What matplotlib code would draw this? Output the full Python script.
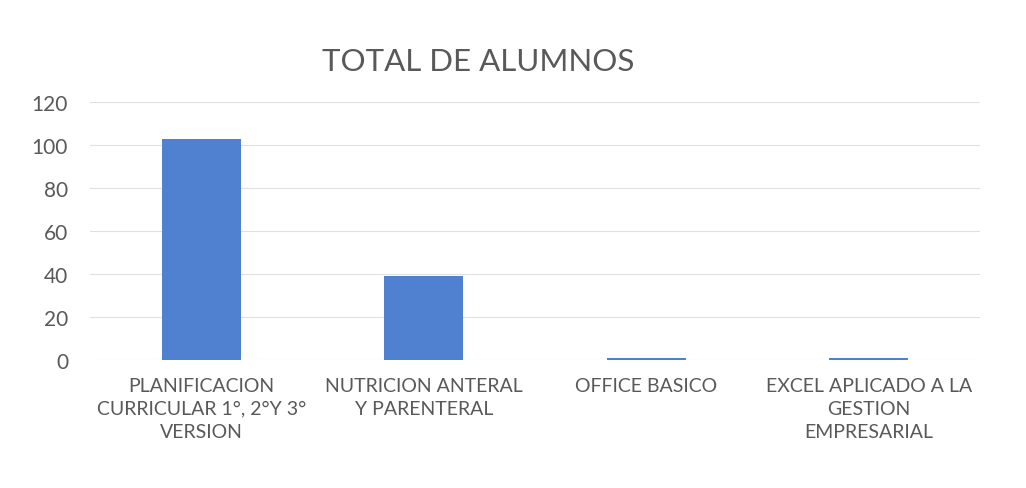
import matplotlib
matplotlib.use("Agg")
import matplotlib.pyplot as plt

categories = ["PLANIFICACION\nCURRICULAR 1°, 2°Y 3°\nVERSION",
              "NUTRICION ANTERAL\nY PARENTERAL",
              "OFFICE BASICO",
              "EXCEL APLICADO A LA\nGESTION\nEMPRESARIAL"]
values = [103, 39, 1, 1]
yticks = [0, 20, 40, 60, 80, 100, 120]

plt.rcParams['font.family'] = ['Lato', 'DejaVu Sans']
fig = plt.figure(figsize=(10.26, 4.89), dpi=100)
ax = fig.add_axes([0.088, 0.262, 0.867, 0.527])
x = range(len(categories))
ax.bar(x, values, width=0.355, color="#4f81d0", zorder=2)
ax.set_xlim(-0.5, 3.5)
ax.set_ylim(0, 120)
ax.set_yticks(yticks)
ax.set_xticks(list(x))
ax.set_xticklabels(categories, fontsize=14, color="#595959", linespacing=1.45)
ax.tick_params(axis='y', labelsize=15, labelcolor="#595959", length=0, pad=16)
ax.tick_params(axis='x', length=0, pad=12)
ax.grid(axis='y', color="#e0e0e0", linewidth=0.8, zorder=0)
for s in ax.spines.values():
    s.set_visible(False)
fig.text(0.466, 0.873, "TOTAL DE ALUMNOS", fontsize=22.5, color="#595959", ha="center", va="center")
fig.savefig("out.png", dpi=100)
